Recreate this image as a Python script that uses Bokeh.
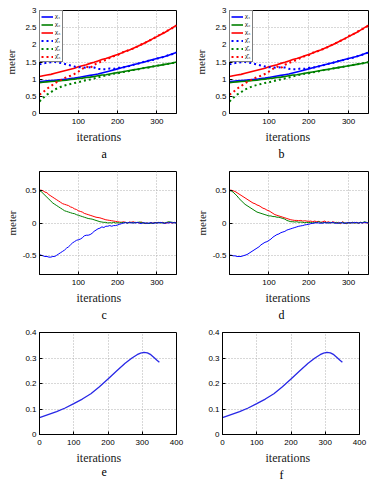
from bokeh.plotting import figure
from bokeh.models import Range1d, FixedTicker, NumeralTickFormatter, Legend, LegendItem, Title
from bokeh.layouts import column, row
from bokeh.embed import file_html
from bokeh.resources import INLINE

SERIF = "Liberation Serif"
SANS = "Liberation Sans"
BLUE, GREEN, RED = "#0000ff", "#008000", "#ff0000"

# ---------------- data: panels a / b (positions, meter) ----------------
it_ab = list(range(0, 351, 10))
it_ab[0] = 1
chi1 = [0.93, 0.94, 0.95, 0.96, 0.97, 0.98, 0.99, 1.00, 1.02, 1.03,
        1.05, 1.07, 1.09, 1.11, 1.13, 1.15, 1.18, 1.21, 1.24, 1.27,
        1.30, 1.33, 1.36, 1.39, 1.42, 1.45, 1.48, 1.51, 1.54, 1.57,
        1.60, 1.63, 1.66, 1.70, 1.74, 1.78]
chi2 = [0.90, 0.91, 0.92, 0.93, 0.94, 0.95, 0.96, 0.97, 0.99, 1.00,
        1.02, 1.03, 1.05, 1.06, 1.08, 1.10, 1.12, 1.13, 1.15, 1.17,
        1.19, 1.21, 1.23, 1.25, 1.27, 1.29, 1.31, 1.33, 1.35, 1.37,
        1.39, 1.41, 1.43, 1.45, 1.47, 1.50]
chi3 = [1.08, 1.10, 1.12, 1.14, 1.17, 1.20, 1.23, 1.26, 1.29, 1.32,
        1.36, 1.39, 1.42, 1.46, 1.49, 1.53, 1.57, 1.60, 1.64, 1.68,
        1.72, 1.76, 1.81, 1.85, 1.90, 1.95, 2.00, 2.06, 2.12, 2.18,
        2.24, 2.30, 2.36, 2.43, 2.50, 2.57]
chi1_hat = [1.43, 1.46, 1.48, 1.49, 1.50, 1.48, 1.46, 1.43, 1.40, 1.37,
            1.35, 1.34, 1.33, 1.35, 1.34, 1.30, 1.29, 1.29, 1.31, 1.30,
            1.33, 1.33, 1.36, 1.38, 1.42, 1.45, 1.47, 1.52, 1.54, 1.56,
            1.60, 1.62, 1.66, 1.70, 1.73, 1.78]
chi2_hat = [0.35, 0.45, 0.55, 0.62, 0.70, 0.75, 0.80, 0.83, 0.86, 0.89,
            0.91, 0.94, 0.97, 0.99, 1.02, 1.05, 1.08, 1.11, 1.13, 1.16,
            1.17, 1.20, 1.22, 1.24, 1.27, 1.28, 1.31, 1.33, 1.34, 1.37,
            1.39, 1.41, 1.43, 1.45, 1.47, 1.49]
chi3_hat = [0.55, 0.62, 0.72, 0.80, 0.88, 0.95, 1.00, 1.06, 1.10, 1.15,
            1.22, 1.30, 1.37, 1.32, 1.42, 1.47, 1.52, 1.56, 1.62, 1.67,
            1.70, 1.77, 1.80, 1.86, 1.89, 1.95, 2.01, 2.06, 2.12, 2.17,
            2.25, 2.30, 2.37, 2.43, 2.49, 2.56]

# ---------------- data: panels c / d (errors, meter) ----------------
it_cd = [1] + list(range(5, 351, 5))
c_red = [0.51, 0.51, 0.50, 0.48, 0.47, 0.44, 0.42, 0.40, 0.38, 0.36,
         0.34, 0.32, 0.30, 0.29, 0.28, 0.27, 0.25, 0.24, 0.22, 0.21,
         0.19, 0.18, 0.17, 0.15, 0.14, 0.13, 0.12, 0.11, 0.10, 0.09,
         0.085, 0.08, 0.07, 0.06, 0.05, 0.045, 0.04, 0.035, 0.03, 0.025,
         0.02, 0.015, 0.01, 0.02, 0.01, 0.0, 0.015, 0.01, 0.02, 0.005,
         0.01, 0.0, 0.015, 0.005, -0.01, 0.0, -0.01, 0.005, -0.005, 0.01,
         0.0, 0.01, 0.005, 0.01, -0.005, 0.0, 0.01, 0.005, 0.0, 0.01, 0.0]
c_green = [0.50, 0.49, 0.46, 0.43, 0.40, 0.37, 0.34, 0.31, 0.29, 0.27,
           0.25, 0.23, 0.21, 0.19, 0.18, 0.17, 0.16, 0.15, 0.145, 0.13,
           0.12, 0.11, 0.10, 0.09, 0.08, 0.07, 0.065, 0.06, 0.05, 0.04,
           0.03, 0.02, 0.015, 0.01, 0.01, 0.0, 0.005, 0.0, 0.01, 0.0,
           0.005, 0.0, 0.01, 0.005, 0.01, 0.0, 0.005, 0.01, 0.0, 0.01,
           0.005, 0.015, 0.01, 0.0, -0.005, 0.0, -0.01, 0.0, -0.005, 0.005,
           0.0, 0.01, 0.0, 0.005, 0.0, 0.01, 0.02, 0.015, 0.01, 0.005, 0.0]
c_blue = [-0.49, -0.50, -0.51, -0.52, -0.52, -0.53, -0.53, -0.52, -0.52, -0.50,
          -0.48, -0.46, -0.44, -0.42, -0.39, -0.37, -0.34, -0.31, -0.29, -0.27,
          -0.26, -0.25, -0.23, -0.20, -0.19, -0.19, -0.18, -0.16, -0.13, -0.11,
          -0.09, -0.08, -0.06, -0.07, -0.05, -0.05, -0.04, -0.05, -0.04, -0.04,
          -0.03, -0.02, -0.01, 0.0, 0.005, 0.0, 0.01, 0.0, 0.005, 0.0,
          0.01, 0.0, -0.01, 0.005, 0.0, -0.005, 0.0, 0.005, -0.005, 0.0,
          0.005, 0.0, 0.01, 0.0, -0.005, 0.005, 0.0, 0.01, 0.0, 0.005, 0.0]
d_red = [0.51, 0.51, 0.50, 0.49, 0.47, 0.45, 0.43, 0.41, 0.39, 0.37,
         0.35, 0.33, 0.31, 0.30, 0.28, 0.27, 0.25, 0.23, 0.22, 0.20,
         0.19, 0.17, 0.15, 0.13, 0.12, 0.11, 0.10, 0.09, 0.08, 0.07,
         0.06, 0.05, 0.045, 0.04, 0.04, 0.035, 0.04, 0.03, 0.035, 0.03,
         0.025, 0.03, 0.02, 0.03, 0.02, 0.025, 0.01, 0.02, 0.03, 0.01,
         0.02, 0.0, 0.02, 0.01, 0.0, 0.01, -0.01, 0.02, 0.0, -0.01,
         0.01, 0.0, 0.01, 0.0, 0.01, -0.005, 0.01, 0.0, 0.01, 0.0, 0.005]
d_green = [0.50, 0.50, 0.48, 0.45, 0.42, 0.38, 0.35, 0.32, 0.29, 0.27,
           0.25, 0.23, 0.21, 0.19, 0.17, 0.16, 0.15, 0.14, 0.13, 0.12,
           0.11, 0.11, 0.10, 0.10, 0.09, 0.09, 0.08, 0.07, 0.06, 0.04,
           0.03, 0.02, 0.02, 0.015, 0.02, 0.01, 0.015, 0.01, 0.005, 0.01,
           0.005, 0.01, 0.0, 0.01, 0.005, 0.02, 0.01, 0.0, 0.01, 0.005,
           0.0, 0.01, 0.005, 0.0, 0.01, -0.005, 0.0, 0.01, 0.0, -0.005,
           0.005, 0.0, 0.01, 0.0, 0.005, 0.0, 0.01, 0.005, 0.02, 0.01, 0.0]
d_blue = [-0.50, -0.50, -0.51, -0.51, -0.52, -0.52, -0.52, -0.51, -0.50, -0.49,
          -0.47, -0.45, -0.43, -0.41, -0.39, -0.37, -0.34, -0.32, -0.30, -0.29,
          -0.27, -0.25, -0.22, -0.20, -0.18, -0.17, -0.15, -0.14, -0.13, -0.11,
          -0.10, -0.09, -0.08, -0.07, -0.06, -0.05, -0.045, -0.04, -0.03, -0.025,
          -0.02, -0.01, -0.005, 0.0, 0.005, 0.0, -0.005, 0.0, 0.005, 0.0,
          0.005, 0.0, 0.01, 0.0, -0.005, 0.0, 0.005, 0.0, -0.005, 0.005,
          0.0, 0.005, 0.0, 0.01, 0.005, 0.0, 0.005, 0.0, 0.01, 0.005, 0.0]

# ---------------- data: panels e / f ----------------
it_ef = [0, 25, 50, 75, 100, 125, 150, 175, 200, 225, 250, 270, 285, 295,
         305, 315, 325, 335, 343, 350]
val_ef = [0.066, 0.078, 0.090, 0.104, 0.121, 0.139, 0.160, 0.187, 0.218, 0.249,
          0.279, 0.300, 0.313, 0.319, 0.322, 0.320, 0.313, 0.301, 0.291, 0.283]

ticks_x_ad = [100, 200, 300]
ticks_y_ab = [0, 0.5, 1, 1.5, 2, 2.5, 3]
ticks_y_cd = [-0.5, 0, 0.5]
ticks_x_ef = [0, 100, 200, 300, 400]
ticks_y_ef = [0, 0.1, 0.2, 0.3, 0.4]


def panel(h, left, right, top, bottom, xr, yr, xt, yt, ylabel, letter,
          it_off, let_off, ylab_standoff=5):
    p = figure(width=186, height=h, output_backend="svg", toolbar_location=None,
               x_range=Range1d(*xr), y_range=Range1d(*yr),
               min_border_left=left, min_border_right=right,
               min_border_top=top, min_border_bottom=bottom)
    p.outline_line_color = "black"
    p.outline_line_width = 1
    p.outline_line_alpha = 1
    p.xaxis.ticker = FixedTicker(ticks=xt)
    p.yaxis.ticker = FixedTicker(ticks=yt)
    p.xaxis.formatter = NumeralTickFormatter(format="0.[0]")
    p.yaxis.formatter = NumeralTickFormatter(format="0.[0]")
    for ax in (p.xaxis[0], p.yaxis[0]):
        ax.major_tick_in = 3
        ax.major_tick_out = 0
        ax.minor_tick_in = 0
        ax.minor_tick_out = 0
        ax.axis_line_color = "black"
        ax.major_tick_line_color = "black"
        ax.major_label_text_font = SANS
        ax.major_label_text_font_size = "8px"
        ax.major_label_text_color = "black"
    p.xaxis.major_label_standoff = 5
    p.yaxis.major_label_standoff = 3
    if ylabel:
        p.yaxis.axis_label = ylabel
        p.yaxis.axis_label_text_font = SERIF
        p.yaxis.axis_label_text_font_size = "11px"
        p.yaxis.axis_label_text_font_style = "normal"
        p.yaxis.axis_label_text_color = "#222222"
        p.yaxis.axis_label_standoff = ylab_standoff
    p.grid.grid_line_color = "#b0b0b0"
    p.grid.grid_line_dash = "1 2"
    p.grid.grid_line_width = 1
    p.add_layout(Title(text="iterations", align="left", offset=it_off,
                       text_font=SERIF, text_font_size="12px",
                       text_font_style="normal", text_color="#222222",
                       standoff=2), "below")
    p.add_layout(Title(text=letter, align="left", offset=let_off,
                       text_font=SERIF, text_font_size="12px",
                       text_font_style="normal", text_color="black",
                       standoff=0), "below")
    return p


def ab_panel(left, right, letter, it_off, let_off):
    p = panel(160, left, right, 10, 42, (1, 350), (0, 3), ticks_x_ad, ticks_y_ab,
              "meter", letter, it_off, let_off)
    r1 = p.line(it_ab, chi1, line_color=BLUE, line_width=1.6)
    r2 = p.line(it_ab, chi2, line_color=GREEN, line_width=1.6)
    r3 = p.line(it_ab, chi3, line_color=RED, line_width=1.6)
    r4 = p.line(it_ab, chi1_hat, line_color=BLUE, line_width=2, line_dash="2 3")
    r5 = p.line(it_ab, chi2_hat, line_color=GREEN, line_width=2, line_dash="2 3")
    r6 = p.line(it_ab, chi3_hat, line_color=RED, line_width=2, line_dash="2 3")
    items = [LegendItem(label="χ₁", renderers=[r1]),
             LegendItem(label="χ₂", renderers=[r2]),
             LegendItem(label="χ₃", renderers=[r3]),
             LegendItem(label="χ̂₁", renderers=[r4]),
             LegendItem(label="χ̂₂", renderers=[r5]),
             LegendItem(label="χ̂₃", renderers=[r6])]
    leg = Legend(items=items, location="top_left", margin=0, padding=1,
                 spacing=0, glyph_width=12, glyph_height=7, label_height=7,
                 label_width=6, label_standoff=2, label_text_font=SERIF,
                 label_text_font_size="7px", label_text_color="black",
                 border_line_color="black", border_line_width=1,
                 background_fill_color="white", background_fill_alpha=1)
    p.add_layout(leg)
    return p


def cd_panel(left, right, letter, it_off, let_off, red, green, blue):
    p = panel(161, left, right, 11, 42, (1, 350), (-0.8, 0.8), ticks_x_ad, ticks_y_cd,
              "meter", letter, it_off, let_off, ylab_standoff=2)
    p.line(it_cd, red, line_color=RED, line_width=1)
    p.line(it_cd, green, line_color=GREEN, line_width=1)
    p.line(it_cd, blue, line_color=BLUE, line_width=1)
    return p


def ef_panel(left, right, letter, it_off, let_off):
    p = panel(160, left, right, 11, 41, (0, 400), (0, 0.4), ticks_x_ef, ticks_y_ef,
              None, letter, it_off, let_off)
    p.line(it_ef, val_ef, line_color="#2828e6", line_width=1.3)
    return p


pa = ab_panel(39, 10, "a", 37, 62)
pb = ab_panel(43, 4, "b", 36, 49)
pc = cd_panel(39, 10, "c", 37, 62, c_red, c_green, c_blue)
pd = cd_panel(43, 4, "d", 36, 49, d_red, d_green, d_blue)
pe = ef_panel(39, 10, "e", 37, 62)
pf = ef_panel(36, 13, "f", 43, 57)

layout = column(row(pa, pb), row(pc, pd), row(pe, pf))
open("out.html", "w").write(file_html(layout, INLINE))
